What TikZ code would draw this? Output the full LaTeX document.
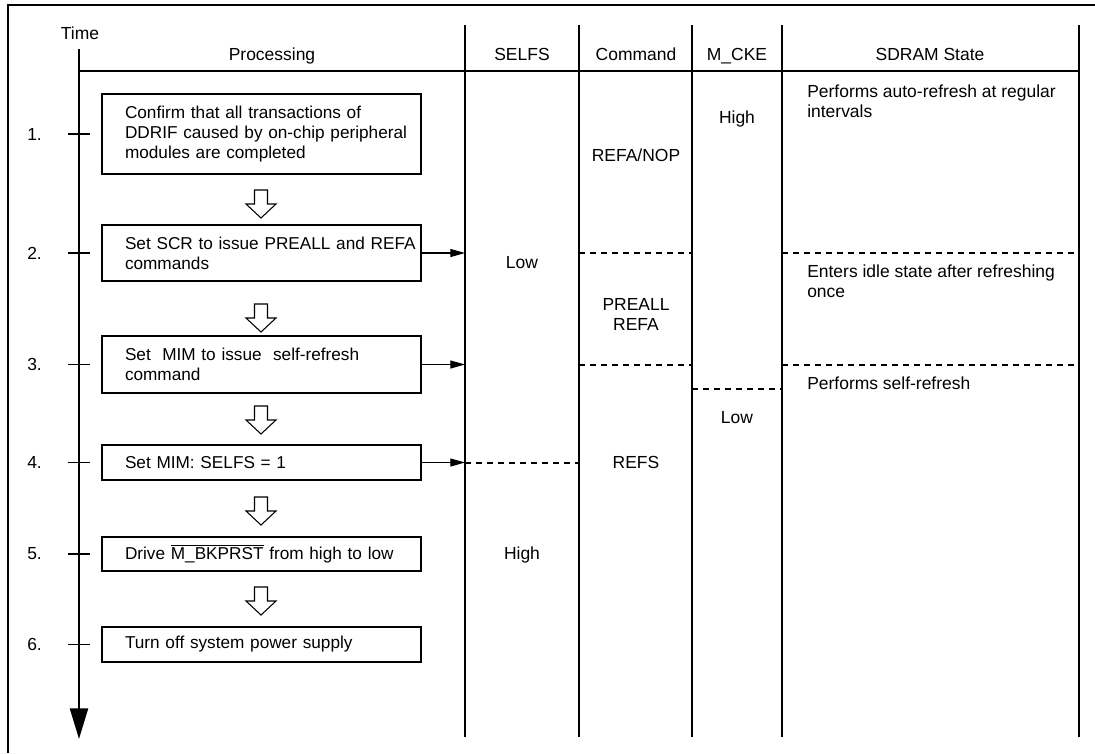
\documentclass[tikz,border=0pt]{standalone}
\usepackage{fontspec}
\setmainfont{Liberation Sans}
\usetikzlibrary{
  arrows.meta,
  positioning
}

\tikzset{
  stepbox/.style={draw, line width=1.8pt, minimum width=239.25pt, text width=204.75pt,
    inner xsep=17.25pt, inner ysep=0pt, align=left, font=\fontsize{12.9}{15}\selectfont},
  lbl/.style={font=\fontsize{13.1}{15}\selectfont, inner sep=0pt},
  txt/.style={lbl, anchor=base},
  colline/.style={line width=1.8pt},
  dotline/.style={line width=1.5pt, dash pattern=on 4.5pt off 3.75pt},
  sig/.style={line width=0.8pt, -{Triangle[length=11pt,width=6pt]}},
  hollow/.style={line width=0.8pt, fill=white}
}

\begin{document}
\begin{tikzpicture}[x=0.75pt, y=-0.75pt]
  \useasboundingbox (0,0) rectangle (1095,753);
  % outer frame (cut at right and bottom)
  \draw[line width=2.2pt] (8,753) -- (8,5) -- (1095,5);

  % column guides
  \coordinate (c0) at (79,71);
  \coordinate (c1) at (465,25);
  \coordinate (c2) at (579,25);
  \coordinate (c3) at (692,25);
  \coordinate (c4) at (782,25);
  \coordinate (c5) at (1079,25);
  \coordinate (bot) at (0,737);
  \coordinate (numx) at (27,0);
  \coordinate (taxtop) at (79,49);
  \coordinate (taxend) at (79,739);

  \foreach \c in {c1,c2,c3,c4,c5}
    \draw[colline] (\c) -- (\c |- bot);
  \draw[colline] (c0) -- (c5 |- c0);
  \draw[line width=1.8pt, -{Triangle[length=23pt,width=13.5pt]}] (taxtop) -- (taxend);

  % headings
  \node[txt] (time) at (80,39) {Time};
  \node[txt] (hproc) at (272,60.5) {Processing};
  \node[txt] (hselfs) at (522,60.5) {SELFS};
  \node[txt] (hcmd) at (636,60.5) {Command};
  \node[txt] (hcke) at (737,60.5) {M\_CKE};
  \node[txt] (hstate) at (930,60.5) {SDRAM State};

  % processing steps
  \node[stepbox, minimum height=60pt] (b1) at (261.5,134)
    {Confirm that all transactions of\\\mbox{DDRIF caused by on-chip peripheral}\\modules are completed};
  \node[stepbox, minimum height=42pt] (b2) at (261.5,253)
    {\mbox{Set SCR to issue PREALL and REFA}\\commands};
  \node[stepbox, minimum height=42.75pt] (b3) at (261.5,364.5)
    {Set\ \ MIM to issue\ \ self-refresh\\command};
  \node[stepbox, minimum height=26.25pt] (b4) at (261.5,462.5) {Set MIM: SELFS = 1};
  \node[stepbox, minimum height=25.5pt] (b5) at (261.5,554)
    {\mbox{Drive $\overline{\hbox{M\_BKPRST}}$ from high to low}};
  \node[stepbox, minimum height=26.25pt] (b6) at (261.5,644.5) {Turn off system power supply};

  \foreach \n/\b in {1/b1,2/b2,3/b3,4/b4,5/b5,6/b6} {
    \draw[line width=0.8pt] ([xshift=-8.25pt]\b.west -| c0) -- ([xshift=8.25pt]\b.west -| c0);
    \node[lbl, anchor=west] (n\n) at (\b.west -| numx) {\n.};
  }

  \foreach \y in {190,304,406,497,587}
    \draw[hollow] (254.5,\y) -- (267.5,\y) -- (267.5,\y+14) -- (276,\y+14)
      -- (261,\y+28) -- (246,\y+14) -- (254.5,\y+14) -- cycle;

  % signals
  \draw[sig] (b2.east) -- (b2.east -| c1);
  \draw[sig] (b3.east) -- (b3.east -| c1);
  \draw[sig] (b4.east) -- (b4.east -| c1);
  \draw[dotline] (b4.east -| c1) -- (b4.east -| c2);
  \draw[dotline] (b2.east -| c2) -- (b2.east -| c3);
  \draw[dotline] (b3.east -| c2) -- (b3.east -| c3);
  \draw[dotline] (b2.east -| c4) -- (b2.east -| c5);
  \draw[dotline] (b3.east -| c4) -- (b3.east -| c5);
  \coordinate (ckedrop) at (0,389);
  \draw[dotline] (ckedrop -| c3) -- (ckedrop -| c4);

  \node[txt] (selfslow) at (522,268) {Low};
  \node[txt] (selfshigh) at (522,559) {High};
  \node[txt] (cmdnop) at (636,161) {REFA/NOP};
  \node[lbl, align=center] (cmdpre) at (636,314) {PREALL\\REFA};
  \node[txt] (cmdrefs) at (636,468) {REFS};
  \node[txt] (ckehigh) at (737,123) {High};
  \node[txt] (ckelow) at (737,423) {Low};
  \node[lbl, anchor=west, align=left] (st1) at (807,101) {Performs auto-refresh at regular\\intervals};
  \node[lbl, anchor=west, align=left] (st2) at (807,281) {Enters idle state after refreshing\\once};
  \node[txt, anchor=base west] (st3) at (807,389) {Performs self-refresh};
\end{tikzpicture}
\end{document}
